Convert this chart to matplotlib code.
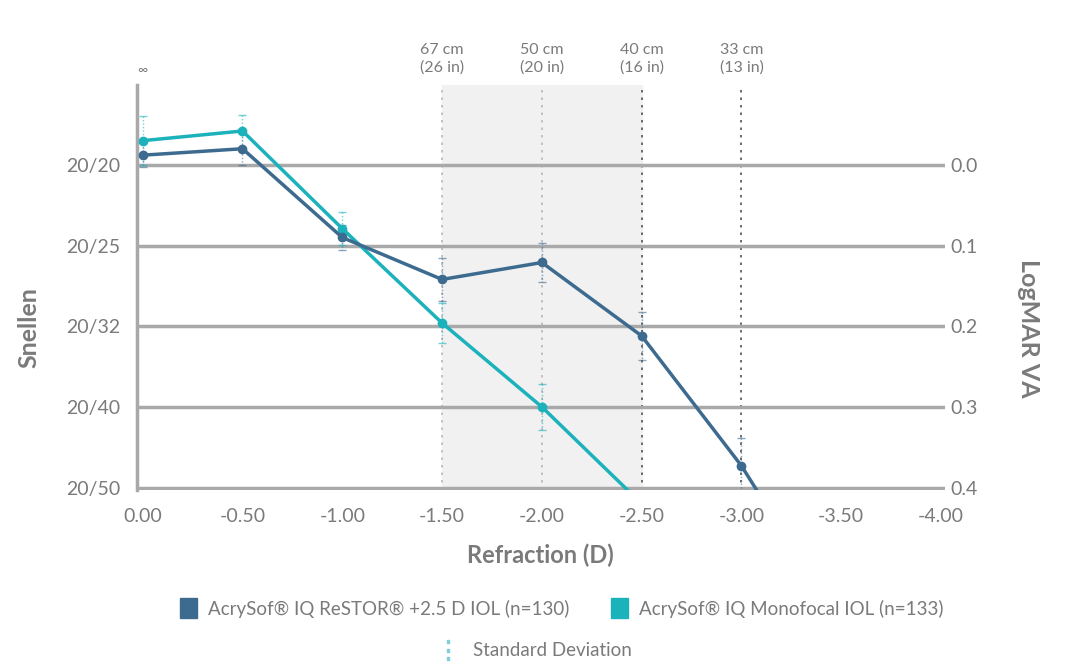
import numpy as np
import matplotlib.pyplot as plt
from matplotlib.patches import Patch
from matplotlib.lines import Line2D

plt.rcParams['font.family'] = ['Lato', 'DejaVu Sans']

# data (defocus in D, logMAR VA)
refraction = [0.0, -0.5, -1.0, -1.5, -2.0, -2.5, -3.0, -3.5]
restor = [-0.012, -0.020, 0.090, 0.142, 0.121, 0.212, 0.373, 0.57]
restor_sd = [0.015, 0.020, 0.015, 0.027, 0.024, 0.030, 0.035, 0.0]
mono_x = [0.0, -0.5, -1.0, -1.5, -2.0, -2.5]
mono = [-0.030, -0.042, 0.079, 0.196, 0.300, 0.42]
mono_sd = [0.030, 0.020, 0.020, 0.025, 0.028, 0.0]

xticks = [0.0, -0.5, -1.0, -1.5, -2.0, -2.5, -3.0, -3.5, -4.0]
xticklabels = ["0.00", "-0.50", "-1.00", "-1.50", "-2.00", "-2.50", "-3.00", "-3.50", "-4.00"]
logmar = [0.0, 0.1, 0.2, 0.3, 0.4]
snellen = ["20/20", "20/25", "20/32", "20/40", "20/50"]
dist_x = [-1.5, -2.0, -2.5, -3.0]
dist_labels = ["67 cm\n(26 in)", "50 cm\n(20 in)", "40 cm\n(16 in)", "33 cm\n(13 in)"]

c_restor = "#3d6b8f"
c_mono = "#1bb2bc"
grey = "#7a7a7a"

fig = plt.figure(figsize=(10.85, 6.64), dpi=100)
ax = fig.add_axes([0.126, 0.262, 0.745, 0.61])
ax.set_xlim(0.03, -4.02)
ax.set_ylim(0.403, -0.099)

# near-vision band and distance markers
ax.axvspan(-1.5, -2.5, color="#f1f1f1", zorder=0)
for i, x in enumerate(dist_x):
  col = "#b8b8b8" if i < 2 else "#555555"
  ax.axvline(x, color=col, linestyle=(0, (1.5, 3)), linewidth=1.2, zorder=1)
  ax.text(x, -0.112, dist_labels[i], ha="center", va="bottom", fontsize=11.5,
    color=grey, linespacing=1.25, clip_on=False)
ax.text(0.0, -0.11, "\u221e", ha="center", va="bottom", fontsize=10, color=grey)

for y in logmar:
  ax.axhline(y, color="#a9a9a9", linewidth=2.5, zorder=1)

# error bars
for xs, ys, sd, c in [(refraction, restor, restor_sd, c_restor), (mono_x, mono, mono_sd, c_mono)]:
  eb = ax.errorbar(xs, ys, yerr=sd, fmt="none", ecolor=c, elinewidth=1,
    capsize=3, capthick=1, alpha=0.6, zorder=2)
  eb[2][0].set_linestyle((0, (1, 1.5)))

ax.plot(refraction, restor, color=c_restor, linewidth=2.5, marker="o", markersize=6, zorder=4)
ax.plot(mono_x, mono, color=c_mono, linewidth=2.5, marker="o", markersize=6, zorder=3)

for s in ["top", "right", "bottom"]:
  ax.spines[s].set_visible(False)
ax.spines["left"].set_color("#a9a9a9")
ax.spines["left"].set_linewidth(2.5)

ax.set_xticks(xticks)
ax.set_xticklabels(xticklabels, fontsize=14, color=grey)
ax.set_yticks(logmar)
ax.set_yticklabels(snellen, fontsize=14, color=grey)
ax.tick_params(axis="x", length=0, pad=13)
ax.tick_params(axis="y", length=0, pad=12)

ax2 = ax.twinx()
ax2.set_ylim(ax.get_ylim())
ax2.set_yticks(logmar)
ax2.set_yticklabels(["0.0", "0.1", "0.2", "0.3", "0.4"], fontsize=14, color=grey)
ax2.tick_params(length=0, pad=4)
for s in ax2.spines.values():
  s.set_visible(False)

ax.set_xlabel("Refraction (D)", fontsize=17, fontweight="bold", color=grey, labelpad=13)
ax.set_ylabel("Snellen", fontsize=18, fontweight="bold", color=grey)
ax.yaxis.set_label_coords(-0.119, 0.40)
ax2.set_ylabel("LogMAR VA", fontsize=18, fontweight="bold", color=grey, rotation=-90, va="center")
ax2.yaxis.set_label_coords(1.103, 0.40)

handles = [Patch(facecolor=c_restor, edgecolor=c_restor),
  Patch(facecolor=c_mono, edgecolor=c_mono)]
labels = ["AcrySof\u00ae IQ ReSTOR\u00ae +2.5 D IOL (n=130)", "AcrySof\u00ae IQ Monofocal IOL (n=133)"]
leg = fig.legend(handles, labels, loc="center", bbox_to_anchor=(0.518, 0.084), ncol=2, frameon=False,
  fontsize=13.5, handlelength=0.9, handleheight=1.3, columnspacing=2.2, handletextpad=0.6)
for t in leg.get_texts():
  t.set_color(grey)
sd_handle = Line2D([0], [0], color="#7fd0d6", linestyle="none", marker=r"$\vdots$", markersize=14)
leg2 = fig.legend([sd_handle], ["Standard Deviation"], loc="center", bbox_to_anchor=(0.495, 0.02),
  frameon=False, fontsize=13.5, handlelength=0.6, handletextpad=1.0)
for t in leg2.get_texts():
  t.set_color(grey)

plt.savefig("out.png", dpi=100)
